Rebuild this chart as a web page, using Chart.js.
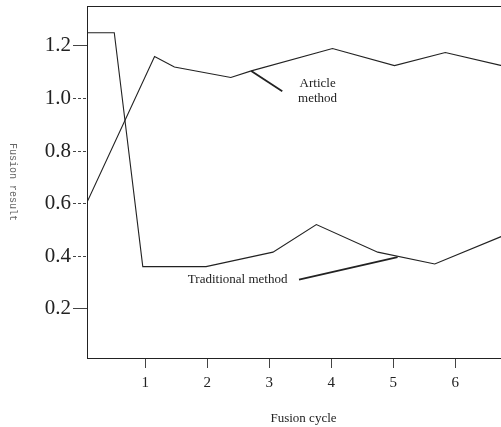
<!DOCTYPE html>
<html>
<head>
<meta charset="utf-8">
<script src="https://cdn.jsdelivr.net/npm/chart.js@4/dist/chart.umd.min.js"></script>
<style>
  html, body { margin: 0; padding: 0; background: #fff; overflow: hidden; }
  #wrap { width: 520px; height: 427px; }
</style>
</head>
<body>
<div id="wrap"><canvas id="fusion-chart" width="520" height="427"></canvas></div>
<script>
// Data (x = fusion cycle, y = fusion result)
const traditionalX = [0.06, 0.5, 0.96, 1.98, 3.06, 3.76, 4.75, 5.67, 6.75];
const traditionalY = [1.25, 1.25, 0.36, 0.36, 0.415, 0.52, 0.415, 0.37, 0.475];

const articleX = [0.06, 1.15, 1.47, 2.38, 2.71, 4.02, 5.02, 5.84, 6.75];
const articleY = [0.605, 1.16, 1.12, 1.08, 1.105, 1.19, 1.125, 1.175, 1.125];

const xTickValues = [1, 2, 3, 4, 5, 6, 7];
const yTickValues = [0.2, 0.4, 0.6, 0.8, 1.0, 1.2];

// Labels with leader lines, anchored in data units
const annotations = [
  { lines: ["Article", "method"], textX: 3.78, textY: 1.055, lineGap: 0.054,
    from: [2.71, 1.105], to: [3.21, 1.027] },
  { lines: ["Traditional method"], textX: 2.49, textY: 0.31, lineGap: 0,
    from: [3.48, 0.31], to: [5.07, 0.396] },
];

const INK = "#222";
const SERIF = "'Liberation Serif', 'DejaVu Serif', serif";

function toPoints(xs, ys) {
  return xs.map((x, i) => ({ x: x, y: ys[i] }));
}

// Draws the top frame line, the rotated y title and the leader-line labels.
const extrasPlugin = {
  id: "extras",
  afterDraw(chart) {
    const { ctx, chartArea, scales } = chart;
    const xs = scales.x;
    const ys = scales.y;
    ctx.save();

    // top border
    ctx.strokeStyle = INK;
    ctx.lineWidth = 1;
    ctx.beginPath();
    ctx.moveTo(chartArea.left, chartArea.top + 0.5);
    ctx.lineTo(chartArea.right, chartArea.top + 0.5);
    ctx.stroke();

    // y title, reading top to bottom
    ctx.save();
    ctx.translate(13, 182);
    ctx.rotate(Math.PI / 2);
    ctx.fillStyle = "#666";
    ctx.font = "10px 'Liberation Mono', 'DejaVu Sans Mono', monospace";
    ctx.textAlign = "center";
    ctx.textBaseline = "middle";
    ctx.fillText("Fusion result", 0, 0);
    ctx.restore();

    // annotations
    annotations.forEach((a) => {
      ctx.strokeStyle = INK;
      ctx.lineWidth = 1.8;
      ctx.beginPath();
      ctx.moveTo(xs.getPixelForValue(a.from[0]), ys.getPixelForValue(a.from[1]));
      ctx.lineTo(xs.getPixelForValue(a.to[0]), ys.getPixelForValue(a.to[1]));
      ctx.stroke();

      ctx.fillStyle = INK;
      ctx.font = "13px " + SERIF;
      ctx.textAlign = "center";
      ctx.textBaseline = "middle";
      a.lines.forEach((line, i) => {
        ctx.fillText(
          line,
          xs.getPixelForValue(a.textX),
          ys.getPixelForValue(a.textY - i * a.lineGap)
        );
      });
    });

    ctx.restore();
  },
};

const chartCanvas = document.querySelector("#fusion-chart");

new Chart(chartCanvas.getContext("2d"), {
  type: "line",
  data: {
    datasets: [
      {
        label: "Traditional method",
        data: toPoints(traditionalX, traditionalY),
        borderColor: INK,
        borderWidth: 1.1,
        pointRadius: 0,
        tension: 0,
        fill: false,
      },
      {
        label: "Article method",
        data: toPoints(articleX, articleY),
        borderColor: INK,
        borderWidth: 1.1,
        pointRadius: 0,
        tension: 0,
        fill: false,
      },
    ],
  },
  options: {
    responsive: false,
    animation: false,
    events: [],
    layout: { padding: { top: 6, left: 0, right: 0, bottom: 0 } },
    plugins: {
      legend: { display: false },
      tooltip: { enabled: false },
    },
    scales: {
      x: {
        type: "linear",
        min: 0.06,
        max: 7.045,
        afterFit: (scale) => {
          scale.height = 69;
          scale.paddingLeft = 0;
          scale.paddingRight = 0;
        },
        afterBuildTicks: (scale) => {
          scale.ticks = xTickValues.map((v) => ({ value: v }));
        },
        border: { display: true, color: INK, width: 1 },
        grid: {
          drawOnChartArea: false,
          drawTicks: true,
          tickLength: 10,
          tickColor: "#444",
          tickWidth: 1,
        },
        ticks: {
          color: INK,
          font: { family: SERIF, size: 15 },
          padding: 6,
          maxRotation: 0,
          autoSkip: false,
        },
        title: {
          display: true,
          text: "Fusion cycle",
          color: INK,
          font: { family: SERIF, size: 13 },
          padding: { top: 0, bottom: 1 },
        },
      },
      y: {
        type: "linear",
        min: 0.012,
        max: 1.352,
        afterFit: (scale) => {
          scale.width = 87;
          scale.paddingTop = 0;
          scale.paddingBottom = 0;
        },
        afterBuildTicks: (scale) => {
          scale.ticks = yTickValues.map((v) => ({ value: v }));
        },
        border: { display: true, color: INK, width: 1 },
        grid: {
          drawOnChartArea: false,
          drawTicks: true,
          tickLength: 14,
          tickColor: "#444",
          tickWidth: 1,
          tickBorderDash: (ctx) => {
            const v = ctx.tick ? ctx.tick.value : 0;
            return v > 0.3 && v < 1.1 ? [3, 2] : [];
          },
        },
        ticks: {
          color: INK,
          font: { family: SERIF, size: 21 },
          padding: 2,
          autoSkip: false,
          callback: (value) => Number(value).toFixed(1),
        },
      },
    },
  },
  plugins: [extrasPlugin],
});
</script>
</body>
</html>
